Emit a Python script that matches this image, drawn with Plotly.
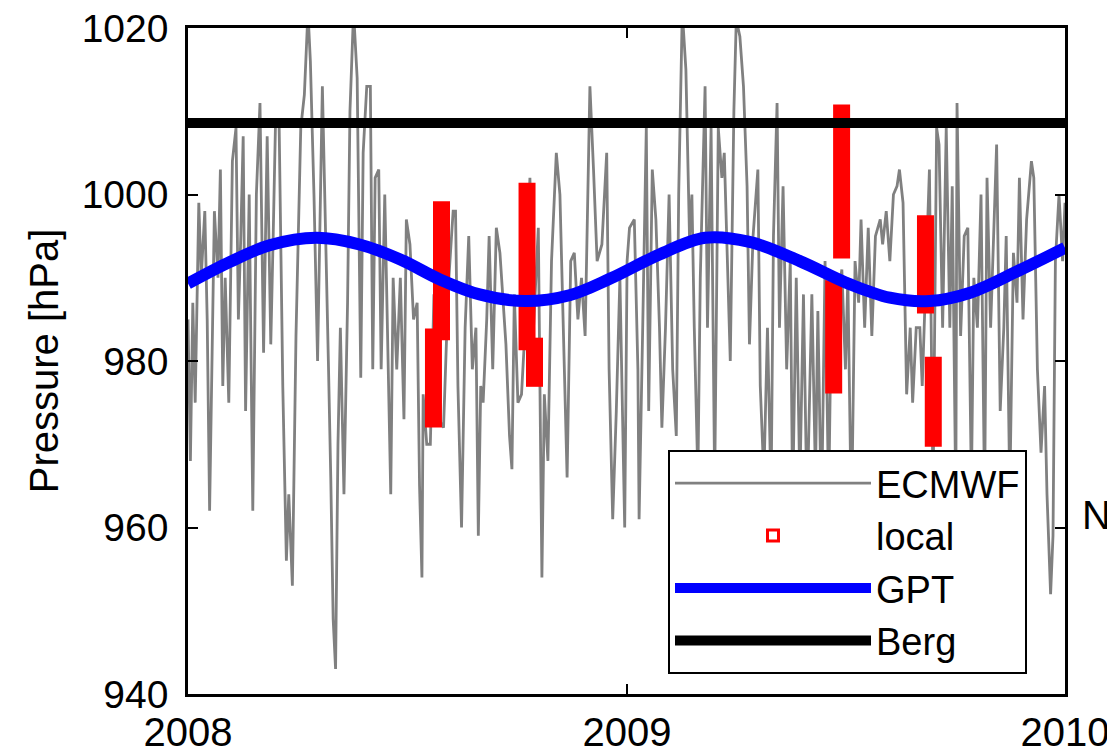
import pandas as pd
import plotly.graph_objects as go

START = pd.Timestamp("2008-01-01")

# ECMWF pressure series: (day offset from 2008-01-01, hPa)
ecmwf_day = [0, 2, 4, 6, 9, 11, 14, 16, 18, 20, 22, 25, 27, 29, 31, 34, 37, 40, 42, 44,
             46, 48, 51, 54, 57, 60, 63, 66, 69, 71, 73, 76, 79, 82, 84, 87, 90, 94, 97, 100,
             102, 105, 108, 112, 115, 117, 119, 121, 123, 125, 127, 130, 133, 135, 138, 141, 144, 146, 149, 152,
             154, 156, 159, 161, 164, 166, 169, 171, 174, 177, 180, 182, 185, 188, 191, 193, 195, 196, 199, 202,
             205, 209, 213, 217, 221, 223, 225, 228, 231, 234, 237, 240, 242, 244, 246, 249, 251, 254, 257, 260,
             263, 265, 268, 270, 272, 275, 278, 281, 285, 288, 292, 295, 297, 300, 303, 307, 310, 313, 316, 319,
             322, 325, 328, 331, 335, 338, 341, 345, 349, 351, 354, 357, 360, 364, 366, 368, 372, 375, 376, 379,
             382, 384, 387, 390, 393, 395, 398, 401, 404, 407, 409, 412, 415, 418, 420, 422, 425, 427, 431, 433,
             436, 439, 442, 445, 447, 450, 452, 455, 457, 460, 463, 466, 468, 471, 475, 477, 480, 483, 486, 488,
             491, 493, 496, 499, 502, 504, 507, 510, 513, 516, 520, 523, 525, 528, 531, 534, 536, 539, 542, 545,
             548, 550, 553, 556, 559, 561, 564, 567, 570, 573, 577, 579, 582, 585, 588, 591, 593, 596, 599, 602,
             604, 607, 610, 612, 615, 618, 621, 624, 626, 629, 632, 635, 637, 640, 641, 644, 647, 650, 653, 655,
             658, 661, 664, 666, 669, 672, 674, 677, 680, 682, 685, 688, 691, 693, 696, 699, 703, 705, 708, 711,
             714, 716, 719, 721, 723, 726, 729, 731]
ecmwf_hpa = [985, 968, 987, 975, 999, 990, 998, 985, 962, 980, 998, 990, 1003, 977, 990, 975, 1004, 1008, 985, 995,
             1007, 974, 1000, 962, 1000, 1011, 981, 1007, 982, 995, 1009, 1008, 977, 956, 964, 953, 983, 1008, 1012, 1022,
             1016, 1000, 980, 1013, 995, 980, 966, 949, 943, 970, 984, 964, 987, 1010, 1022, 1014, 978, 1005, 1013, 1013,
             979, 1002, 1003, 979, 1000, 987, 964, 990, 979, 990, 973, 997, 994, 985, 987, 965, 954, 976, 970, 970,
             988, 973, 972, 989, 998, 998, 977, 960, 984, 995, 979, 984, 959, 977, 975, 985, 995, 979, 996, 993,
             987, 982, 971, 967, 988, 975, 976, 984, 1002, 984, 996, 954, 976, 968, 992, 1005, 1000, 983, 966, 992,
             993, 985, 990, 983, 1013, 1003, 992, 994, 1005, 979, 961, 974, 990, 960, 992, 996, 997, 979, 961, 984,
             1008, 974, 1003, 997, 984, 972, 984, 1000, 979, 971, 1000, 1022, 1015, 995, 1000, 984, 966, 990, 1013, 984,
             1008, 965, 1008, 1002, 1005, 990, 980, 1010, 1021, 1019, 1013, 1001, 982, 995, 1003, 977, 966, 984, 964, 995,
             1011, 984, 1001, 979, 992, 963, 990, 965, 988, 962, 988, 966, 986, 961, 992, 963, 984, 977, 988, 991,
             979, 990, 960, 992, 987, 997, 984, 996, 983, 995, 997, 994, 998, 992, 1000, 1001, 1003, 999, 976, 984,
             975, 984, 984, 977, 990, 1003, 964, 1008, 1006, 984, 1008, 984, 1001, 963, 1011, 983, 995, 996, 965, 990,
             984, 1000, 963, 1002, 984, 997, 1006, 974, 984, 995, 964, 993, 987, 1002, 985, 997, 1004, 1002, 979, 969,
             977, 964, 952, 959, 992, 1000, 992, 999]

# GPT model curve
gpt_day = [0, 35, 68, 107, 143, 177, 210, 243, 281, 318, 352, 393, 431, 468, 510, 552, 585, 618, 652, 693, 731]
gpt_hpa = [989.3, 991.9, 993.9, 994.8, 994.0, 992.2, 989.8, 988.0, 987.2, 987.9, 989.9, 992.8, 994.8, 994.3,
           992.0, 989.2, 987.6, 987.2, 988.2, 990.9, 993.6]

# Berg model (constant)
berg_day = [0, 731]
berg_hpa = [1008.6, 1008.6]

# local measurements: campaign blocks (centre day, min hPa, max hPa)
local_day = [204.6, 211.3, 282.6, 288.8, 538.2, 544.8, 614.7, 621.2]
local_min = [972.0, 982.5, 981.3, 976.9, 976.1, 992.3, 985.7, 969.7]
local_max = [983.9, 999.2, 1001.4, 982.8, 989.7, 1010.8, 997.5, 980.5]

x_ticks = ["2008-01-01", "2009-01-01", "2010-01-01"]
x_ticktext = ["2008", "2009", "2010"]
y_ticks = [940, 960, 980, 1000, 1020]


def to_date(days):
    return [START + pd.Timedelta(days=float(d)) for d in days]


# vertical segments for the local campaign blocks
loc_x, loc_y = [], []
for d, lo, hi in zip(to_date(local_day), local_min, local_max):
    loc_x += [d, d, None]
    loc_y += [lo, hi, None]

FONT = "Arial, 'Liberation Sans', sans-serif"

fig = go.Figure()
fig.add_trace(go.Scatter(x=to_date(ecmwf_day), y=ecmwf_hpa, mode="lines", name="ECMWF",
                         line=dict(color="#808080", width=2.8)))
fig.add_trace(go.Scatter(x=loc_x, y=loc_y, mode="lines", name="local", showlegend=False,
                         line=dict(color="#FF0000", width=17), connectgaps=False))
fig.add_trace(go.Scatter(x=[None], y=[None], mode="markers", name="local",
                         marker=dict(symbol="square-open", size=11, color="#FF0000", line=dict(width=3))))
fig.add_trace(go.Scatter(x=to_date(gpt_day), y=gpt_hpa, mode="lines", name="GPT",
                         line=dict(color="#0000FF", width=12, shape="spline")))
fig.add_trace(go.Scatter(x=to_date(berg_day), y=berg_hpa, mode="lines", name="Berg",
                         line=dict(color="#000000", width=10)))

# the page body adds an 8 px offset, margins compensate for it
fig.update_layout(
    width=1115, height=752,
    margin=dict(l=180, r=58, t=20, b=66),
    paper_bgcolor="white", plot_bgcolor="white",
    font=dict(family=FONT, size=40, color="black"),
    showlegend=True,
    legend=dict(x=(668 - 188) / 877, y=(694 - 450) / 666, xanchor="left", yanchor="top",
                bgcolor="white", bordercolor="black", borderwidth=2,
                font=dict(size=38), itemwidth=196, tracegroupgap=0),
)
fig.update_xaxes(type="date", range=["2008-01-01", "2010-01-01"], tickvals=x_ticks, ticktext=x_ticktext,
                 showgrid=False, zeroline=False, showline=True, linecolor="black", linewidth=2.5,
                 mirror="ticks", ticks="inside", ticklen=10, tickwidth=2, tickcolor="black",
                 ticklabelstandoff=1, tickfont=dict(size=40), automargin=False,
                 ticklabeloverflow="allow")
fig.update_yaxes(range=[940, 1020], tickvals=y_ticks, showgrid=False, zeroline=False,
                 showline=True, linecolor="black", linewidth=2.5, mirror="ticks",
                 ticks="inside", ticklen=10, tickwidth=2, tickcolor="black",
                 ticklabelstandoff=9, tickfont=dict(size=39), automargin=False,
                 ticklabeloverflow="allow",
                 title=dict(text="Pressure [hPa]", font=dict(size=40), standoff=11))

fig.add_annotation(text="N", xref="paper", yref="paper", x=1.0, y=(694 - 515) / 666, xanchor="right",
                   xshift=1105 - 1057, yanchor="middle", showarrow=False, font=dict(size=40, color="black"))

fig.write_html("out.html")
